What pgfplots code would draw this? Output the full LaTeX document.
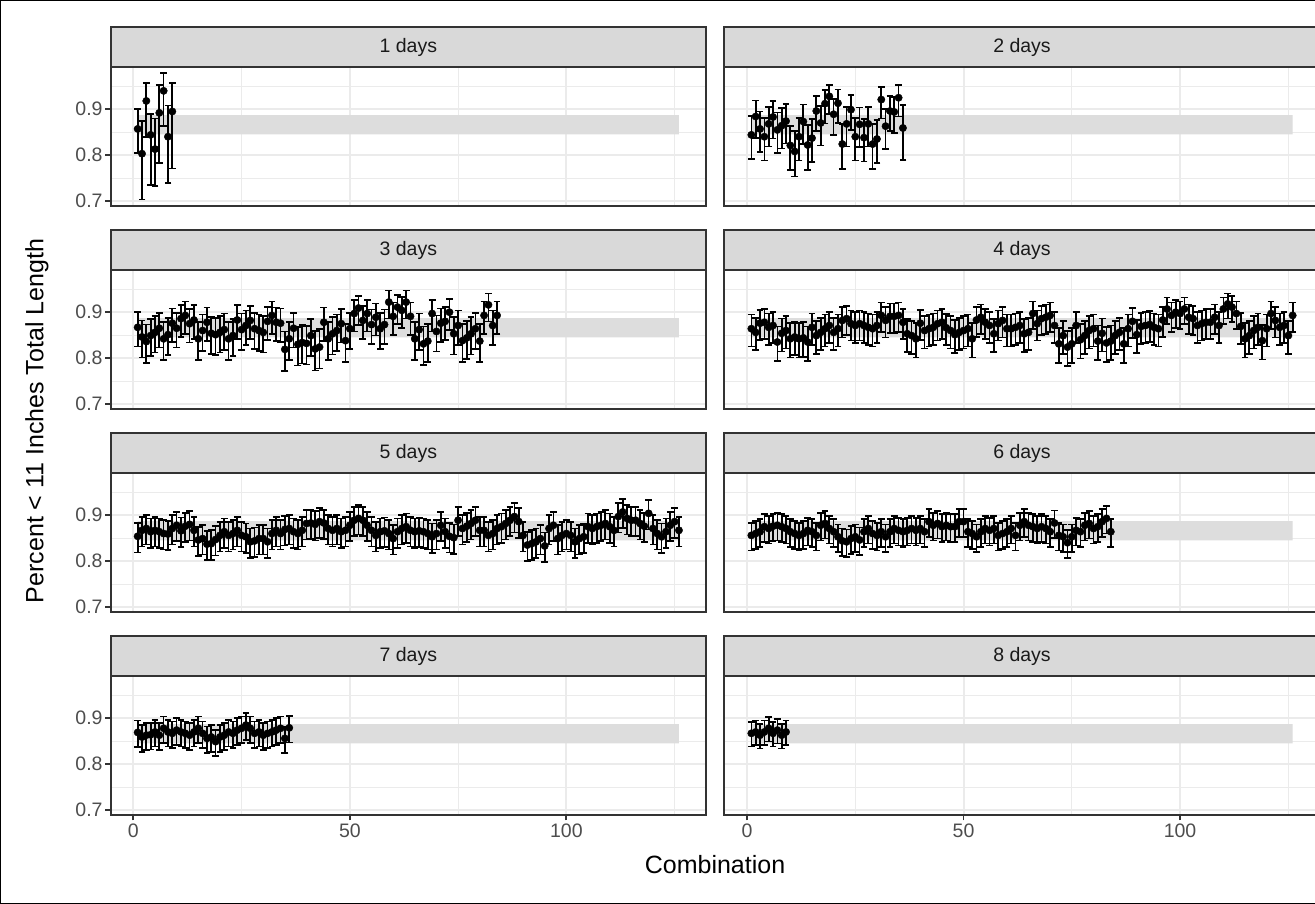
\documentclass[border=0pt]{standalone}
\usepackage{fontspec}
\setmainfont{Liberation Sans}
\usepackage{pgfplots}
\usepackage{pgfplotstable}
\pgfplotsset{compat=1.18}
\definecolor{grey10}{HTML}{1A1A1A}
\definecolor{grey20}{HTML}{333333}
\definecolor{grey30}{HTML}{4D4D4D}
\definecolor{grey85}{HTML}{D9D9D9}
\definecolor{grey92}{HTML}{EBEBEB}
\definecolor{bandgrey}{HTML}{DDDDDD}

% one table per facet: combination index, estimate, error bar up / down
\pgfplotstableread{
x y ep em
1 0.857 0.044 0.053
2 0.803 0.072 0.100
3 0.918 0.039 0.078
4 0.844 0.046 0.109
5 0.813 0.067 0.081
6 0.892 0.061 0.109
7 0.940 0.039 0.076
8 0.840 0.068 0.101
9 0.895 0.062 0.124
}\dA

\pgfplotstableread{
x y ep em
1 0.844 0.041 0.052
2 0.884 0.035 0.047
3 0.857 0.038 0.050
4 0.840 0.041 0.052
5 0.868 0.037 0.049
6 0.883 0.035 0.047
7 0.855 0.038 0.050
8 0.864 0.038 0.050
9 0.874 0.037 0.049
10 0.821 0.043 0.054
11 0.808 0.045 0.055
12 0.840 0.041 0.052
13 0.873 0.037 0.049
14 0.822 0.043 0.054
15 0.837 0.041 0.052
16 0.896 0.032 0.044
17 0.870 0.037 0.049
18 0.912 0.030 0.043
19 0.928 0.025 0.039
20 0.889 0.033 0.046
21 0.913 0.030 0.043
22 0.824 0.043 0.054
23 0.868 0.037 0.049
24 0.899 0.032 0.044
25 0.840 0.041 0.052
26 0.867 0.037 0.049
27 0.838 0.041 0.052
28 0.868 0.037 0.049
29 0.824 0.043 0.054
30 0.835 0.041 0.052
31 0.921 0.028 0.041
32 0.863 0.038 0.050
33 0.896 0.032 0.044
34 0.894 0.033 0.046
35 0.925 0.028 0.041
36 0.859 0.050 0.070
}\dB

\pgfplotstableread{
x y ep em
1 0.867 0.033 0.042
2 0.846 0.036 0.045
3 0.836 0.037 0.046
4 0.849 0.036 0.045
5 0.856 0.035 0.044
6 0.865 0.033 0.042
7 0.842 0.037 0.046
8 0.851 0.036 0.045
9 0.876 0.032 0.041
10 0.865 0.033 0.042
11 0.886 0.030 0.040
12 0.893 0.030 0.040
13 0.875 0.032 0.041
14 0.883 0.032 0.041
15 0.842 0.037 0.046
16 0.860 0.035 0.044
17 0.878 0.032 0.041
18 0.854 0.036 0.045
19 0.851 0.036 0.045
20 0.856 0.035 0.044
21 0.862 0.035 0.044
22 0.842 0.037 0.046
23 0.849 0.036 0.045
24 0.883 0.032 0.041
25 0.862 0.035 0.044
26 0.871 0.033 0.042
27 0.882 0.032 0.041
28 0.864 0.035 0.044
29 0.860 0.035 0.044
30 0.856 0.035 0.044
31 0.880 0.032 0.041
32 0.893 0.030 0.040
33 0.878 0.032 0.041
34 0.876 0.032 0.041
35 0.819 0.039 0.047
36 0.842 0.037 0.046
37 0.865 0.033 0.042
38 0.830 0.038 0.046
39 0.834 0.038 0.046
40 0.832 0.038 0.046
41 0.849 0.036 0.045
42 0.820 0.039 0.047
43 0.824 0.039 0.047
44 0.878 0.032 0.041
45 0.842 0.037 0.046
46 0.853 0.036 0.045
47 0.860 0.035 0.044
48 0.875 0.032 0.041
49 0.838 0.037 0.046
50 0.864 0.035 0.044
51 0.897 0.029 0.039
52 0.909 0.027 0.037
53 0.882 0.032 0.041
54 0.897 0.029 0.039
55 0.873 0.033 0.042
56 0.889 0.030 0.040
57 0.864 0.035 0.044
58 0.873 0.033 0.042
59 0.922 0.025 0.036
60 0.891 0.030 0.040
61 0.911 0.027 0.037
62 0.904 0.029 0.039
63 0.922 0.025 0.036
64 0.891 0.030 0.040
65 0.842 0.037 0.046
66 0.862 0.035 0.044
67 0.831 0.038 0.046
68 0.837 0.037 0.046
69 0.897 0.029 0.039
70 0.858 0.035 0.044
71 0.876 0.032 0.041
72 0.880 0.032 0.041
73 0.900 0.029 0.039
74 0.853 0.036 0.045
75 0.871 0.033 0.042
76 0.838 0.037 0.046
77 0.844 0.037 0.046
78 0.853 0.036 0.045
79 0.864 0.035 0.044
80 0.837 0.037 0.046
81 0.893 0.030 0.040
82 0.916 0.025 0.036
83 0.871 0.033 0.042
84 0.893 0.030 0.040
}\dC

\pgfplotstableread{
x y ep em
1 0.864 0.031 0.039
2 0.856 0.031 0.039
3 0.876 0.029 0.037
4 0.878 0.029 0.037
5 0.867 0.030 0.038
6 0.871 0.030 0.038
7 0.835 0.034 0.041
8 0.854 0.032 0.040
9 0.860 0.031 0.039
10 0.842 0.034 0.041
11 0.846 0.032 0.040
12 0.842 0.034 0.041
13 0.844 0.034 0.041
14 0.835 0.034 0.041
15 0.867 0.030 0.038
16 0.849 0.032 0.040
17 0.856 0.031 0.039
18 0.864 0.031 0.039
19 0.871 0.030 0.038
20 0.856 0.031 0.039
21 0.864 0.031 0.039
22 0.882 0.029 0.037
23 0.886 0.028 0.036
24 0.875 0.029 0.037
25 0.871 0.030 0.038
26 0.875 0.029 0.037
27 0.871 0.030 0.038
28 0.867 0.030 0.038
29 0.864 0.031 0.039
30 0.871 0.030 0.038
31 0.893 0.028 0.036
32 0.882 0.029 0.037
33 0.891 0.028 0.036
34 0.891 0.028 0.036
35 0.893 0.028 0.036
36 0.878 0.029 0.037
37 0.853 0.032 0.040
38 0.849 0.032 0.040
39 0.842 0.034 0.041
40 0.876 0.029 0.037
41 0.860 0.031 0.039
42 0.864 0.031 0.039
43 0.867 0.030 0.038
44 0.875 0.029 0.037
45 0.878 0.029 0.037
46 0.866 0.030 0.038
47 0.860 0.031 0.039
48 0.851 0.032 0.040
49 0.856 0.031 0.039
50 0.860 0.031 0.039
51 0.864 0.031 0.039
52 0.842 0.034 0.041
53 0.883 0.029 0.037
54 0.889 0.028 0.036
55 0.878 0.029 0.037
56 0.871 0.030 0.038
57 0.853 0.032 0.040
58 0.875 0.029 0.037
59 0.882 0.029 0.037
60 0.864 0.031 0.039
61 0.864 0.031 0.039
62 0.867 0.030 0.038
63 0.871 0.030 0.038
64 0.853 0.032 0.040
65 0.856 0.031 0.039
66 0.897 0.026 0.034
67 0.875 0.029 0.037
68 0.886 0.028 0.036
69 0.889 0.028 0.036
70 0.893 0.028 0.036
71 0.871 0.030 0.038
72 0.831 0.035 0.041
73 0.849 0.032 0.040
74 0.824 0.035 0.042
75 0.831 0.035 0.041
76 0.871 0.030 0.038
77 0.840 0.034 0.041
78 0.849 0.032 0.040
79 0.860 0.031 0.039
80 0.864 0.031 0.039
81 0.837 0.034 0.041
82 0.854 0.032 0.040
83 0.833 0.035 0.041
84 0.837 0.034 0.041
85 0.849 0.032 0.040
86 0.856 0.031 0.039
87 0.831 0.035 0.041
88 0.864 0.031 0.039
89 0.880 0.029 0.037
90 0.851 0.032 0.040
91 0.869 0.030 0.038
92 0.871 0.030 0.038
93 0.873 0.030 0.038
94 0.867 0.030 0.038
95 0.864 0.031 0.039
96 0.883 0.029 0.037
97 0.907 0.025 0.033
98 0.893 0.028 0.036
99 0.900 0.026 0.034
100 0.897 0.026 0.034
101 0.907 0.025 0.033
102 0.889 0.028 0.036
103 0.886 0.028 0.036
104 0.871 0.030 0.038
105 0.875 0.029 0.037
106 0.878 0.029 0.037
107 0.878 0.029 0.037
108 0.889 0.028 0.036
109 0.871 0.030 0.038
110 0.907 0.025 0.033
111 0.918 0.023 0.032
112 0.911 0.025 0.033
113 0.897 0.026 0.034
114 0.869 0.030 0.038
115 0.842 0.034 0.041
116 0.849 0.032 0.040
117 0.860 0.031 0.039
118 0.867 0.030 0.038
119 0.838 0.034 0.041
120 0.864 0.031 0.039
121 0.897 0.026 0.034
122 0.882 0.029 0.037
123 0.867 0.030 0.038
124 0.871 0.030 0.038
125 0.849 0.032 0.040
126 0.893 0.028 0.036
}\dD

\pgfplotstableread{
x y
1 0.854
2 0.867
3 0.871
4 0.864
5 0.867
6 0.864
7 0.860
8 0.859
9 0.871
10 0.878
11 0.866
12 0.876
13 0.880
14 0.867
15 0.846
16 0.849
17 0.837
18 0.838
19 0.847
20 0.856
21 0.864
22 0.856
23 0.860
24 0.867
25 0.856
26 0.853
27 0.842
28 0.844
29 0.849
30 0.849
31 0.842
32 0.860
33 0.867
34 0.860
35 0.869
36 0.871
37 0.864
38 0.860
39 0.867
40 0.882
41 0.883
42 0.880
43 0.886
44 0.883
45 0.871
46 0.867
47 0.871
48 0.864
49 0.867
50 0.878
51 0.889
52 0.893
53 0.889
54 0.878
55 0.867
56 0.856
57 0.864
58 0.866
59 0.860
60 0.849
61 0.864
62 0.871
63 0.875
64 0.867
65 0.864
66 0.866
67 0.864
68 0.860
69 0.853
70 0.860
71 0.878
72 0.864
73 0.854
74 0.851
75 0.889
76 0.871
77 0.876
78 0.882
79 0.889
80 0.867
81 0.867
82 0.856
83 0.860
84 0.871
85 0.875
86 0.882
87 0.889
88 0.897
89 0.886
90 0.856
91 0.835
92 0.838
93 0.842
94 0.849
95 0.833
96 0.871
97 0.878
98 0.849
99 0.856
100 0.860
101 0.856
102 0.842
103 0.849
104 0.853
105 0.875
106 0.871
107 0.875
108 0.878
109 0.882
110 0.875
111 0.867
112 0.897
113 0.907
114 0.893
115 0.889
116 0.889
117 0.882
118 0.876
119 0.904
120 0.871
121 0.860
122 0.853
123 0.864
124 0.878
125 0.886
126 0.867
}\dE

\pgfplotstableread{
x y
1 0.856
2 0.860
3 0.864
4 0.875
5 0.871
6 0.876
7 0.878
8 0.875
9 0.871
10 0.864
11 0.860
12 0.856
13 0.860
14 0.867
15 0.864
16 0.856
17 0.878
18 0.882
19 0.871
20 0.864
21 0.853
22 0.844
23 0.842
24 0.849
25 0.853
26 0.846
27 0.864
28 0.871
29 0.860
30 0.856
31 0.864
32 0.853
33 0.864
34 0.871
35 0.867
36 0.864
37 0.867
38 0.871
39 0.867
40 0.871
41 0.864
42 0.886
43 0.878
44 0.882
45 0.875
46 0.878
47 0.875
48 0.875
49 0.886
50 0.886
51 0.864
52 0.860
53 0.853
54 0.864
55 0.871
56 0.867
57 0.871
58 0.856
59 0.860
60 0.864
61 0.871
62 0.856
63 0.878
64 0.886
65 0.878
66 0.875
67 0.871
68 0.875
69 0.871
70 0.864
71 0.883
72 0.856
73 0.853
74 0.840
75 0.853
76 0.867
77 0.864
78 0.878
79 0.882
80 0.871
81 0.875
82 0.886
83 0.893
84 0.864
}\dF

\pgfplotstableread{
x y
1 0.869
2 0.859
3 0.863
4 0.864
5 0.870
6 0.863
7 0.878
8 0.870
9 0.867
10 0.874
11 0.870
12 0.867
13 0.863
14 0.870
15 0.878
16 0.867
17 0.856
18 0.859
19 0.849
20 0.859
21 0.863
22 0.870
23 0.867
24 0.874
25 0.878
26 0.885
27 0.878
28 0.867
29 0.870
30 0.863
31 0.867
32 0.870
33 0.874
34 0.878
35 0.856
36 0.879
}\dG

\pgfplotstableread{
x y
1 0.867
2 0.870
3 0.863
4 0.870
5 0.878
6 0.867
7 0.874
8 0.863
9 0.870
}\dH

\pgfplotsset{
  facet/.style={
    scale only axis, width=595.4pt, height=139pt, anchor=south west,
    xmin=-5.25, xmax=132.25, ymin=0.689, ymax=0.992,
    xtick={0,50,100}, ytick={0.7,0.8,0.9},
    minor xtick={25,75,125}, minor ytick={0.75,0.85,0.95},
    xticklabels={}, yticklabels={},
    grid=both,
    major grid style={draw=grey92, line width=2pt},
    minor grid style={draw=grey92, line width=1pt},
    axis line style={draw=grey20, line width=1.8pt},
    xtick pos=bottom, ytick pos=left,
    tick align=outside, major tick length=5.5pt, minor tick length=0pt,
    xtick style={draw=none}, ytick style={draw=none},
    tick label style={font=\fontsize{19.5}{22}\selectfont, text=grey30},
    yticklabel style={xshift=1pt},
    clip=false,
  },
  leftcol/.style={yticklabels={0.7,0.8,0.9}, ytick style={draw=grey20, line width=1.8pt}},
  botrow/.style={xticklabels={0,50,100}, xtick style={draw=grey20, line width=1.8pt}},
  band/.style={draw=none, fill=bandgrey, forget plot},
  pts/.style={black, only marks, mark=*, mark size=3.7pt,
    error bars/.cd, y dir=both, y explicit,
    error bar style={line width=1.7pt, black},
    error mark options={rotate=90, mark size=3.4pt, line width=1.7pt, black}},
}
\newcommand{\strip}[1]{%
  \draw[fill=grey85, draw=grey20, line width=1.8pt] (rel axis cs:0,1) rectangle ([yshift=40pt]rel axis cs:1,1);
  \node[font=\fontsize{19.5}{22}\selectfont, text=grey10] at ([yshift=20pt]rel axis cs:0.5,1) {#1};}
\newcommand{\bandplot}{\addplot[band] coordinates {(1,0.845) (126,0.845) (126,0.887) (1,0.887) (1,0.845)};}

\begin{document}
\begin{tikzpicture}[x=1pt,y=1pt]
\useasboundingbox (0,0) rectangle (1315,904);
\fill[white] (0,0) rectangle (1315,904);

\begin{axis}[facet, leftcol, at={(110.6pt,698pt)}]
\bandplot
\addplot[pts] table[x=x, y=y, y error plus=ep, y error minus=em] {\dA};
\strip{1 days}
\end{axis}
\begin{axis}[facet, at={(724.3pt,698pt)}]
\bandplot
\addplot[pts] table[x=x, y=y, y error plus=ep, y error minus=em] {\dB};
\strip{2 days}
\end{axis}

\begin{axis}[facet, leftcol, at={(110.6pt,495pt)}]
\bandplot
\addplot[pts] table[x=x, y=y, y error plus=ep, y error minus=em] {\dC};
\strip{3 days}
\end{axis}
\begin{axis}[facet, at={(724.3pt,495pt)}]
\bandplot
\addplot[pts] table[x=x, y=y, y error plus=ep, y error minus=em] {\dD};
\strip{4 days}
\end{axis}

\begin{axis}[facet, leftcol, at={(110.6pt,292pt)}]
\bandplot
\addplot[pts] table[x=x, y=y, y error plus expr=0.029, y error minus expr=0.035] {\dE};
\strip{5 days}
\end{axis}
\begin{axis}[facet, at={(724.3pt,292pt)}]
\bandplot
\addplot[pts] table[x=x, y=y, y error plus expr=0.027, y error minus expr=0.033] {\dF};
\strip{6 days}
\end{axis}

\begin{axis}[facet, leftcol, botrow, at={(110.6pt,89pt)}]
\bandplot
\addplot[pts] table[x=x, y=y, y error plus expr=0.026, y error minus expr=0.032] {\dG};
\strip{7 days}
\end{axis}
\begin{axis}[facet, botrow, at={(724.3pt,89pt)}]
\bandplot
\addplot[pts] table[x=x, y=y, y error plus expr=0.025, y error minus expr=0.029] {\dH};
\strip{8 days}
\end{axis}

\node[rotate=90, font=\fontsize{25}{28}\selectfont] at (37,483) {Percent < 11 Inches Total Length};
\node[font=\fontsize{25}{28}\selectfont] at (715,39) {Combination};
\draw[black, line width=1.2pt] (0.6,0.6) rectangle (1320,903.4);
\end{tikzpicture}
\end{document}
